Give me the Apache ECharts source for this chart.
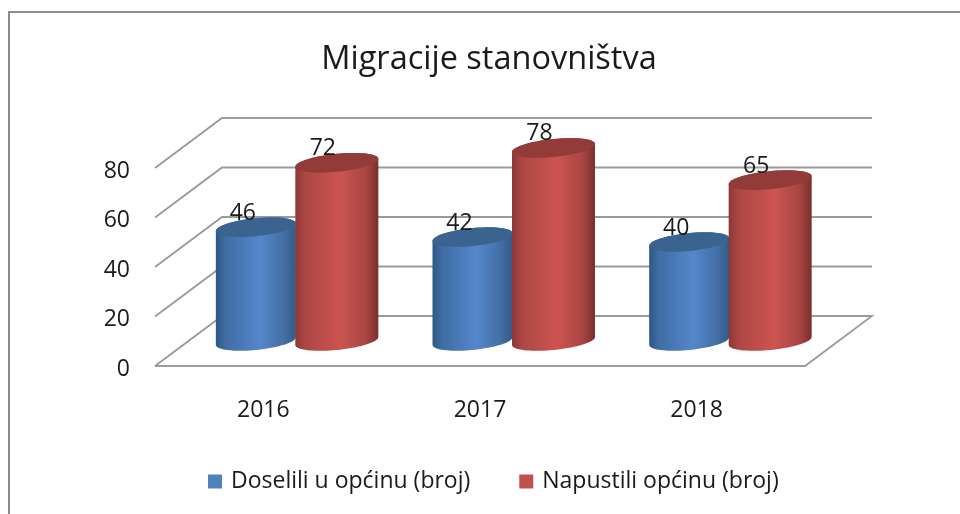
<!DOCTYPE html>
<html>
<head>
<meta charset="utf-8">
<style>html,body{margin:0;padding:0;background:#fff}#c{width:960px;height:514px}</style>
<script src="https://cdn.jsdelivr.net/npm/echarts@6/dist/echarts.min.js"></script>
</head>
<body>
<div id="c"></div>
<script>
var categories = ['2016', '2017', '2018'];
var doselili = [46, 42, 40];
var napustili = [72, 78, 65];
var yTicks = [0, 20, 40, 60, 80];
var titleText = 'Migracije stanovništva';
var seriesNames = ['Doselili u općinu (broj)', 'Napustili općinu (broj)'];

var FONT = '"Open Sans", sans-serif';
var TEXT = '#1a1a1a';
var DEPTH_X = 67, DEPTH_Y = -50;
var SHEAR = 0.096, CAP_B = 9;

function capPoints(cx, cy, a, from, to, n) {
  var pts = [];
  for (var i = 0; i <= n; i++) {
    var t = from + (to - from) * i / n;
    var dx = a * Math.cos(t);
    pts.push([cx + dx, cy + CAP_B * Math.sin(t) - SHEAR * dx]);
  }
  return pts;
}

function cylinderSeries(name, values, centerShift, halfWidth, labelShift, side, capFill, legendColor, z) {
  return {
    name: name,
    type: 'custom',
    clip: false,
    silent: true,
    z: z,
    itemStyle: { color: legendColor },
    data: values.map(function (v, i) { return [i, v]; }),
    encode: { x: 0, y: 1 },
    renderItem: function (params, api) {
      var top = api.coord([api.value(0), api.value(1)]);
      var base = api.coord([api.value(0), 0]);
      var cx = top[0] + DEPTH_X / 2 + centerShift;
      var topY = top[1] + DEPTH_Y / 2;
      var baseY = base[1] + DEPTH_Y / 2;
      var body = capPoints(cx, baseY, halfWidth, 0, Math.PI, 40)
        .concat(capPoints(cx, topY, halfWidth, Math.PI, 2 * Math.PI, 40));
      return {
        type: 'group',
        children: [
          {
            type: 'polygon',
            shape: { points: body },
            style: {
              fill: {
                type: 'linear', x: 0, y: 0, x2: 1, y2: 0,
                colorStops: side
              }
            }
          },
          {
            type: 'polygon',
            shape: { points: capPoints(cx, topY, halfWidth, 0, 2 * Math.PI, 80) },
            style: { fill: capFill }
          },
          {
            type: 'text',
            z2: 10,
            style: {
              text: String(api.value(1)),
              x: cx + labelShift,
              y: topY - 14,
              align: 'center',
              verticalAlign: 'middle',
              fill: TEXT,
              font: '23px ' + FONT
            }
          }
        ]
      };
    }
  };
}

var blueSide = [
  { offset: 0, color: '#2f5785' },
  { offset: 0.12, color: '#3f6da3' },
  { offset: 0.55, color: '#5487cb' },
  { offset: 0.85, color: '#446fa5' },
  { offset: 1, color: '#335a88' }
];
var redSide = [
  { offset: 0, color: '#8a3836' },
  { offset: 0.12, color: '#ad4744' },
  { offset: 0.55, color: '#cc5450' },
  { offset: 0.85, color: '#a84643' },
  { offset: 1, color: '#7a2f2d' }
];

var chart = echarts.init(document.getElementById('c'), null, { renderer: 'canvas' });
chart.setOption({
  animation: false,
  backgroundColor: '#ffffff',
  title: {
    text: titleText,
    left: 484, top: 38, textAlign: 'center',
    textStyle: { fontFamily: FONT, fontSize: 32.5, fontWeight: 'normal', color: TEXT }
  },
  legend: {
    data: seriesNames,
    left: 203, top: 465,
    icon: 'rect', itemWidth: 14, itemHeight: 14, itemGap: 49,
    textStyle: { fontFamily: FONT, fontSize: 23, color: TEXT, padding: [0, 0, 0, 4] }
  },
  grid: { left: 155, top: 168, width: 650, height: 198 },
  xAxis: {
    type: 'category',
    data: categories,
    axisLine: { show: false },
    axisTick: { show: false },
    axisLabel: { margin: 33, fontFamily: FONT, fontSize: 23, color: TEXT }
  },
  yAxis: {
    type: 'value',
    min: 0, max: 80, interval: 20,
    splitLine: { show: false },
    axisLine: { show: false },
    axisTick: { show: false },
    axisLabel: {
      margin: 25,
      formatter: '{a|{value}}',
      rich: { a: { fontFamily: FONT, fontSize: 23, color: TEXT, padding: [6, 0, 0, 0] } }
    }
  },
  graphic: [{
    type: 'rect',
    silent: true,
    shape: { x: 9, y: 12, width: 1000, height: 600 },
    style: { fill: 'none', stroke: '#8c8c8c', lineWidth: 2 },
    z: -1
  }],
  series: [
    {
      type: 'custom',
      name: 'walls',
      silent: true,
      clip: false,
      z: 1,
      data: yTicks.map(function (t) { return [0, t]; }),
      encode: { x: 0, y: 1 },
      renderItem: function (params, api) {
        var y = api.coord([0, api.value(1)])[1];
        var left = params.coordSys.x;
        var right = left + params.coordSys.width;
        var pts = [[left, y], [left + DEPTH_X, y + DEPTH_Y], [right + DEPTH_X, y + DEPTH_Y]];
        if (api.value(1) === 0) {
          pts = pts.concat([[right, y], [left, y]]);
        }
        return {
          type: 'polyline',
          shape: { points: pts },
          style: { fill: 'none', stroke: '#9a9a9a', lineWidth: 1.8 }
        };
      }
    },
    cylinderSeries(seriesNames[0], doselili, -41, 40, -13, blueSide, '#3b638f', '#4f81bd', 2),
    cylinderSeries(seriesNames[1], napustili, 40, 41.5, -14, redSide, '#933b39', '#c0504d', 3)
  ]
});
</script>
</body>
</html>
